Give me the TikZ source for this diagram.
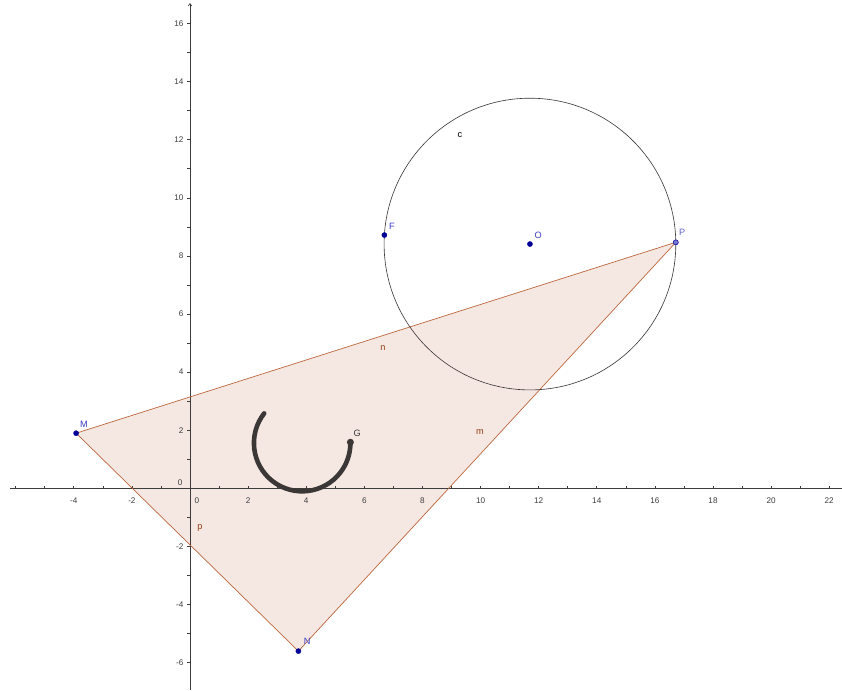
\documentclass[tikz,border=0pt]{standalone}
\usepackage{fontspec}
\setmainfont{Liberation Sans}
\usetikzlibrary{arrows.meta}
\definecolor{trifill}{RGB}{245,232,226}
\definecolor{triedge}{RGB}{190,105,65}
\definecolor{trilabel}{RGB}{150,60,20}
\definecolor{ptfill}{RGB}{0,0,150}
\definecolor{ptlabel}{RGB}{60,60,200}
\definecolor{axiscol}{RGB}{60,60,60}
\definecolor{arccol}{RGB}{60,55,55}
\tikzset{
  axisline/.style={axiscol,line width=0.6pt},
  ticklab/.style={font=\fontsize{8}{9}\selectfont,text=axiscol,inner sep=0pt},
  ptdot/.style={circle,fill=ptfill,draw=ptfill,inner sep=0pt,minimum size=5pt},
  ptlab/.style={font=\fontsize{9}{10}\selectfont,text=ptlabel,inner sep=0pt},
  seglab/.style={font=\fontsize{9}{10}\selectfont,text=trilabel,inner sep=0pt},
  edge/.style={triedge,line width=0.7pt}
}
\begin{document}
\begin{tikzpicture}
\useasboundingbox (-6.54,-6.94) rectangle (22.44,16.81);
\fill[white] (-6.54,-6.94) rectangle (22.44,16.81);
% points
\coordinate (M) at (-3.92,1.90);
\coordinate (N) at (3.73,-5.60);
\coordinate (P) at (16.72,8.47);
\coordinate (F) at (6.69,8.72);
\coordinate (O) at (11.70,8.41);
% triangle
\fill[trifill] (M) -- (N) -- (P) -- cycle;
% axes
\draw[axisline] (-6.2,0) -- (22.44,0);
\draw[axisline,-{To[length=3pt,width=4pt]}] (0,-6.94) -- (0,16.7);
\foreach \x in {-6,-5,...,22} {\draw[axisline] (\x,0) -- (\x,0.1);}
\foreach \y in {-6,-5,...,16} {\draw[axisline] (0,\y) -- (-0.1,\y);}
\foreach \x in {-4,-2,2,4,6,8,10,12,14,16,18,20,22} {\node[ticklab] (xl\x) at (\x,-0.42) {\x};}
\node[ticklab] (xl0) at (0.24,-0.42) {0};
\foreach \y in {-6,-4,-2,2,4,6,8,10,12,14,16} {\node[ticklab,anchor=east] (yl\y) at (-0.22,\y) {\y};}
\node[ticklab] (yl0) at (-0.34,0.2) {0};
% triangle edges
\draw[edge] (M) -- (N);
\draw[edge] (N) -- (P);
\draw[edge] (P) -- (M);
% circle
\draw[arccol,line width=0.6pt] (O) circle[radius=5.02];
% thick arc
\draw[arccol,line width=4.5pt,line cap=round] (3.86,1.56) ++(142:1.66) arc[start angle=142,end angle=361,radius=1.66] coordinate (G);
\fill[arccol] (G) circle[radius=0.12];
% point marks
\node[ptdot] (Mp) at (M) {};
\node[ptdot] (Np) at (N) {};
\node[ptdot] (Fp) at (F) {};
\node[ptdot] (Op) at (O) {};
\node[circle,fill=ptlabel!70!white,draw=ptfill,line width=0.5pt,inner sep=0pt,minimum size=5pt] (Pp) at (P) {};
% labels
\node[ptlab] (lM) at (-3.65,2.21) {M};
\node[ptlab] (lN) at (4.03,-5.25) {N};
\node[ptlab,text=ptlabel!80!white] (lP) at (16.94,8.83) {P};
\node[ptlab] (lF) at (6.95,9.03) {F};
\node[ptlab] (lO) at (11.98,8.72) {O};
\node[font=\fontsize{9}{10}\selectfont,text=arccol,inner sep=0pt] (lG) at (5.75,1.90) {G};
\node[font=\fontsize{9}{10}\selectfont,text=black,inner sep=0pt] (lc) at (9.29,12.16) {c};
\node[seglab] (ln) at (6.64,4.83) {n};
\node[seglab] (lm) at (9.98,1.94) {m};
\node[seglab] (lp) at (0.34,-1.37) {p};
\end{tikzpicture}
\end{document}
